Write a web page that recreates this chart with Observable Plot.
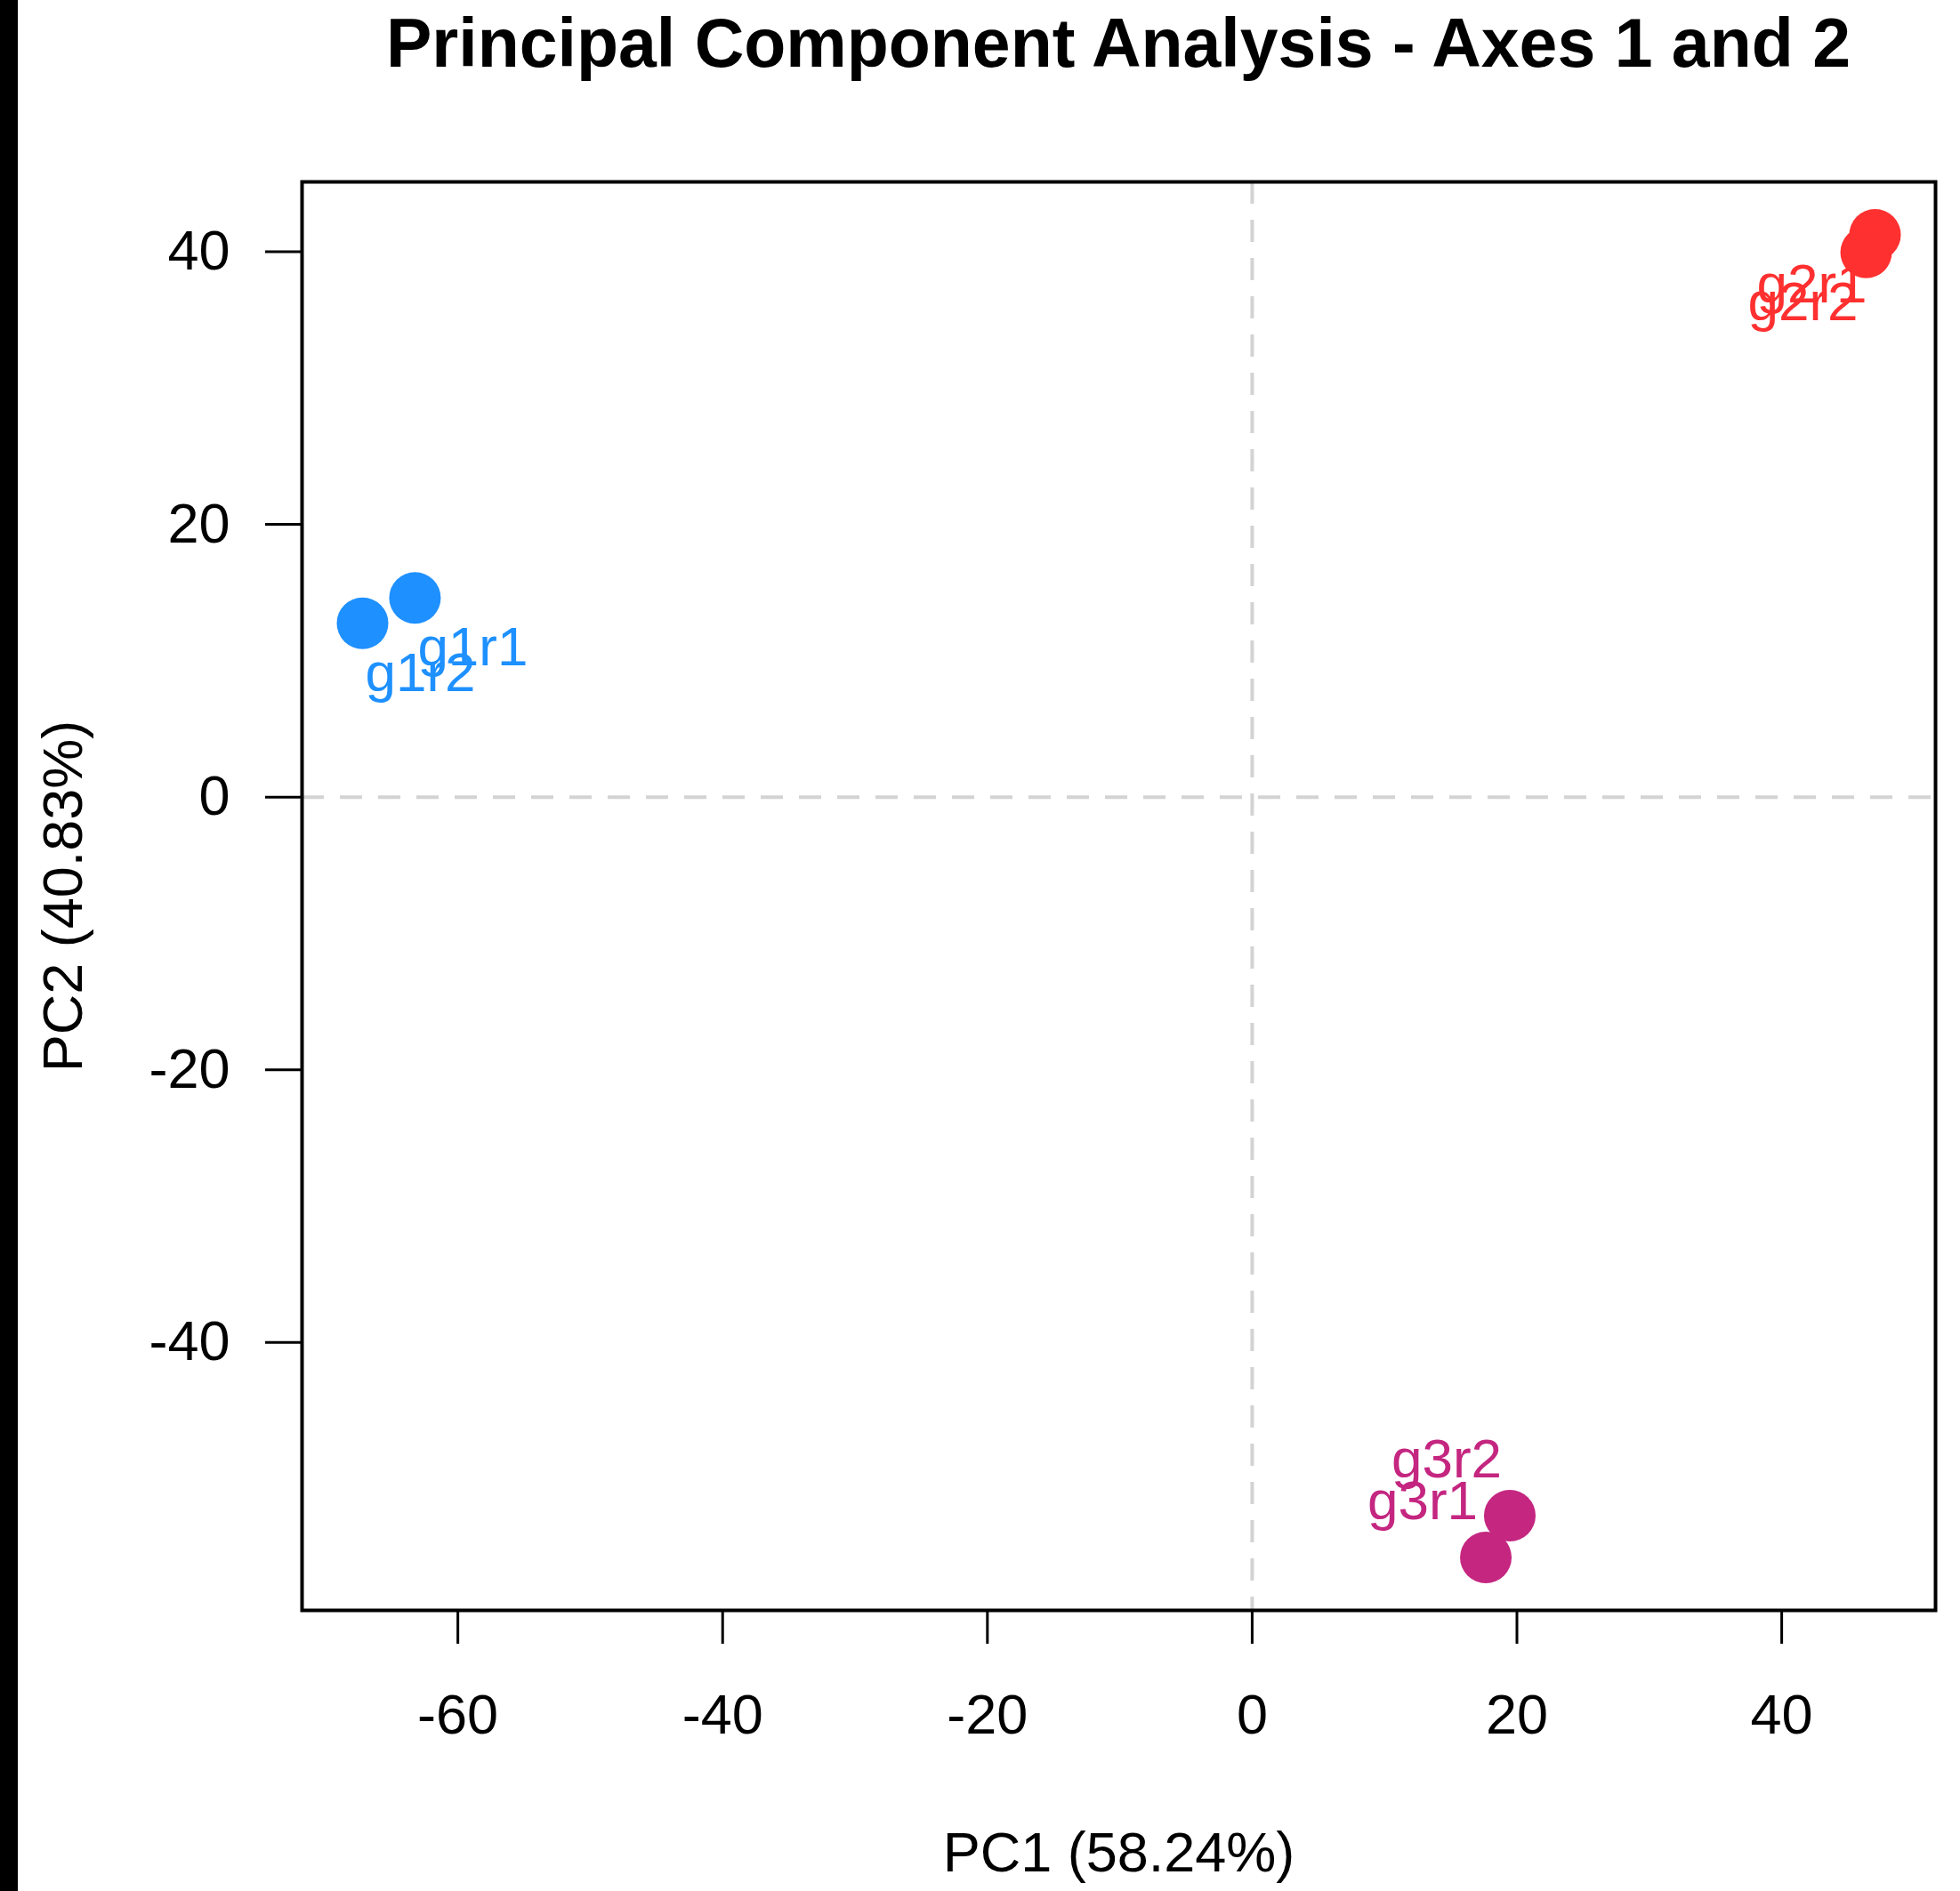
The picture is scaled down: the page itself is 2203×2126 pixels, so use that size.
<!DOCTYPE html>
<html>
<head>
<meta charset="utf-8">
<script src="https://cdn.jsdelivr.net/npm/d3@7"></script>
<script src="https://cdn.jsdelivr.net/npm/@observablehq/plot@0.6"></script>
<style>
  html, body { margin: 0; padding: 0; background: #fff; }
  body { width: 2203px; height: 2126px; position: relative; overflow: hidden; font-family: "Liberation Sans", Arial, sans-serif; }
  #strip { position: absolute; left: 0; top: 0; width: 20px; height: 2126px; background: #000; z-index: 2; }
  #title { box-sizing: border-box; height: 120px; padding-top: 10px; margin-left: 339px; width: 1836px;
           text-align: center; font-weight: 700; font-size: 77px; line-height: 77px; color: #000; white-space: nowrap; }
  #chart svg { display: block; }
</style>
</head>
<body>
<div id="strip"></div>
<div id="title">Principal Component Analysis - Axes 1 and 2</div>
<div id="chart"></div>
<script>
// ---- data ----
const samples = ["g1r1", "g1r2", "g2r1", "g2r2", "g3r1", "g3r2"];
const groups  = ["g1", "g1", "g2", "g2", "g3", "g3"];
const pc1     = [-63.24, -67.2, 47.05, 46.38, 17.65, 19.46];
const pc2     = [14.61, 12.75, 41.24, 39.95, -55.77, -52.7];
const groupNames  = ["g1", "g2", "g3"];
const groupColors = ["#1E90FF", "#FF3030", "#C42680"];
const xTicks = [-60, -40, -20, 0, 20, 40];
const yTicks = [-40, -20, 0, 20, 40];
const xLabel = "PC1 (58.24%)";
const yLabel = "PC2 (40.83%)";

const data = samples.map((s, i) => ({sample: s, group: groups[i], pc1: pc1[i], pc2: pc2[i]}));

// R-style 4% range expansion
function expand(v) {
  const [lo, hi] = d3.extent(v);
  const pad = (hi - lo) * 0.04;
  return [lo - pad, hi + pad];
}

// label offsets (style) per group
const labelOffset = {g1: {dx: 65, dy: 76}, g2: {dx: -71, dy: 76}, g3: {dx: -71, dy: -43}};

const FONT = "Liberation Sans, Arial, sans-serif";
const FS = 63;

const plot = Plot.plot({
  width: 2203,
  height: 2006,
  marginLeft: 339,
  marginRight: 28,
  marginTop: 84,
  marginBottom: 316,
  style: {fontFamily: FONT, fontSize: FS + "px", color: "#000", background: "#fff"},
  x: {domain: expand(pc1)},
  y: {domain: expand(pc2)},
  color: {domain: groupNames, range: groupColors},
  marks: [
    Plot.ruleX([0], {stroke: "#d3d3d3", strokeWidth: 4, strokeDasharray: "25,18"}),
    Plot.ruleY([0], {stroke: "#d3d3d3", strokeWidth: 4, strokeDasharray: "25,18"}),
    Plot.dot(data, {x: "pc1", y: "pc2", r: 29, fill: "group", stroke: null}),
    ...groupNames.map(g => Plot.text(data, {
      filter: d => d.group === g,
      x: "pc1", y: "pc2", text: "sample", fill: "group",
      fontSize: 62, lineAnchor: "bottom", textAnchor: "middle",
      dx: labelOffset[g].dx, dy: labelOffset[g].dy
    })),
    Plot.frame({stroke: "#000", strokeWidth: 4}),
    Plot.axisX({ticks: xTicks, tickSize: 38, tickPadding: 56, fontSize: FS, strokeWidth: 3, label: null, tickFormat: d => String(d)}),
    Plot.axisY({ticks: yTicks, tickSize: 41, tickPadding: 40, fontSize: FS, strokeWidth: 3, label: null, tickFormat: d => String(d)}),
    Plot.text([xLabel], {frameAnchor: "bottom", text: d => d, fontSize: FS, lineAnchor: "bottom", textAnchor: "middle", dy: 293}),
    Plot.text([yLabel], {frameAnchor: "left", text: d => d, fontSize: FS, lineAnchor: "bottom", textAnchor: "middle", rotate: -90, dx: -248})
  ]
});
document.getElementById("chart").appendChild(plot);
</script>
</body>
</html>
